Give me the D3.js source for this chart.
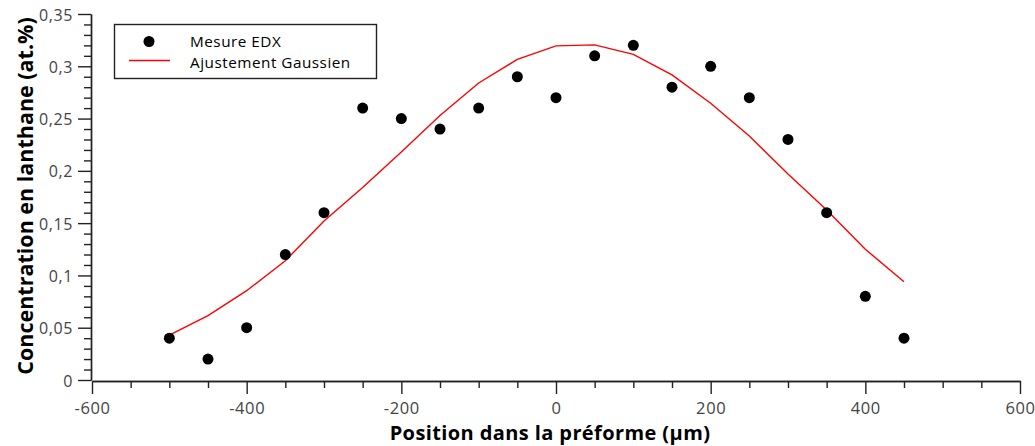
<!DOCTYPE html>
<html>
<head>
<meta charset="utf-8">
<script src="https://cdn.jsdelivr.net/npm/d3@7"></script>
<style>
  body { margin: 0; background: #fff; }
  svg { font-family: "Open Sans", sans-serif; }
</style>
</head>
<body>
<div id="chart"></div>
<script>
// mesures EDX
const positions = [-500, -450, -400, -350, -300, -250, -200, -150, -100, -50, 0, 50, 100, 150, 200, 250, 300, 350, 400, 450];
const edx = [0.04, 0.02, 0.05, 0.12, 0.16, 0.26, 0.25, 0.24, 0.26, 0.29, 0.27, 0.31, 0.32, 0.28, 0.30, 0.27, 0.23, 0.16, 0.08, 0.04];
// ajustement gaussien
const fit = [0.043, 0.0615, 0.0854, 0.114, 0.152, 0.184, 0.218, 0.253, 0.284, 0.3066, 0.3195, 0.3205, 0.3114, 0.2917, 0.2646, 0.2333, 0.197, 0.1626, 0.125, 0.094];

const xTicks = [-600, -400, -200, 0, 200, 400, 600];
const xMinor = [-550, -500, -450, -350, -300, -250, -150, -100, -50, 50, 100, 150, 250, 300, 350, 450, 500, 550];
const yTicks = [0, 0.05, 0.1, 0.15, 0.2, 0.25, 0.3, 0.35];
const yMinor = [];
for (let i = 0; i <= 35; i++) if (i % 5) yMinor.push(i / 100);

const width = 1035, height = 446;
const fr = d3.formatLocale({ decimal: ",", thousands: " ", grouping: [3], currency: ["", " €"] });
const yFmt = fr.format("~g");

const x = d3.scaleLinear().domain([-600, 600]).range([92, 1020]);
const y = d3.scaleLinear().domain([0, 0.35]).range([380, 14]);

const svg = d3.select("#chart").append("svg")
    .attr("width", width)
    .attr("height", height);

// axe X
svg.append("g").attr("transform", "translate(0,381)")
    .call(d3.axisBottom(x).tickValues(xMinor).tickSize(7).tickSizeOuter(0).tickFormat(""));
const gx = svg.append("g").attr("transform", "translate(0,381)")
    .call(d3.axisBottom(x).tickValues(xTicks).tickSize(13).tickSizeOuter(0).tickFormat(d => String(d)));
// axe Y
svg.append("g").attr("transform", "translate(91,0)")
    .call(d3.axisLeft(y).tickValues(yMinor).tickSize(7).tickSizeOuter(0).tickFormat(""));
const gy = svg.append("g").attr("transform", "translate(91,0)")
    .call(d3.axisLeft(y).tickValues(yTicks).tickSize(13).tickSizeOuter(0).tickFormat(d => yFmt(d)));

svg.selectAll(".domain, .tick line")
    .attr("stroke", "#222")
    .attr("stroke-width", 1.4);
gx.attr("font-size", 16.5).attr("font-family", null);
gy.attr("font-size", 16).attr("font-family", null);
gx.selectAll(".tick text").attr("y", 20.8).attr("dy", "0.71em").style("letter-spacing", "0.6px");
svg.selectAll(".tick text").attr("fill", "#444");
gy.selectAll(".tick text").attr("x", -18).attr("dy", "0.38em").style("letter-spacing", "0.6px");

// titres
svg.append("text")
    .attr("x", 550).attr("y", 440)
    .attr("text-anchor", "middle")
    .style("font-size", "20px").style("font-weight", "bold")
    .style("letter-spacing", "0.4px")
    .text("Position dans la préforme (µm)");
svg.append("text")
    .attr("transform", "translate(33,196) rotate(-90)")
    .attr("text-anchor", "middle")
    .style("font-size", "21.5px").style("font-weight", "bold")
    .text("Concentration en lanthane (at.%)");

// courbe gaussienne
const line = d3.line().x((d, i) => x(positions[i])).y(d => y(d));
svg.append("path")
    .datum(fit)
    .attr("fill", "none")
    .attr("stroke", "#ff0000")
    .attr("stroke-width", 1.4)
    .attr("d", line);

// points
svg.append("g").selectAll("circle")
    .data(edx)
    .join("circle")
    .attr("cx", (d, i) => x(positions[i]))
    .attr("cy", d => y(d))
    .attr("r", 5.5)
    .attr("fill", "#000");

// légende
const lg = svg.append("g");
lg.append("rect")
    .attr("x", 114.5).attr("y", 24.5)
    .attr("width", 262).attr("height", 54)
    .attr("fill", "#fff")
    .attr("stroke", "#222").attr("stroke-width", 1.4);
lg.append("circle").attr("cx", 149).attr("cy", 41.5).attr("r", 5.5).attr("fill", "#000");
lg.append("line").attr("x1", 129).attr("x2", 170).attr("y1", 60.5).attr("y2", 60.5)
    .attr("stroke", "#ff0000").attr("stroke-width", 1.4);
lg.append("text").attr("x", 190).attr("y", 47).style("font-size", "15.3px").style("letter-spacing", "0.5px").text("Mesure EDX");
lg.append("text").attr("x", 190).attr("y", 68).style("font-size", "15.3px").style("letter-spacing", "0.5px").text("Ajustement Gaussien");
</script>
</body>
</html>
